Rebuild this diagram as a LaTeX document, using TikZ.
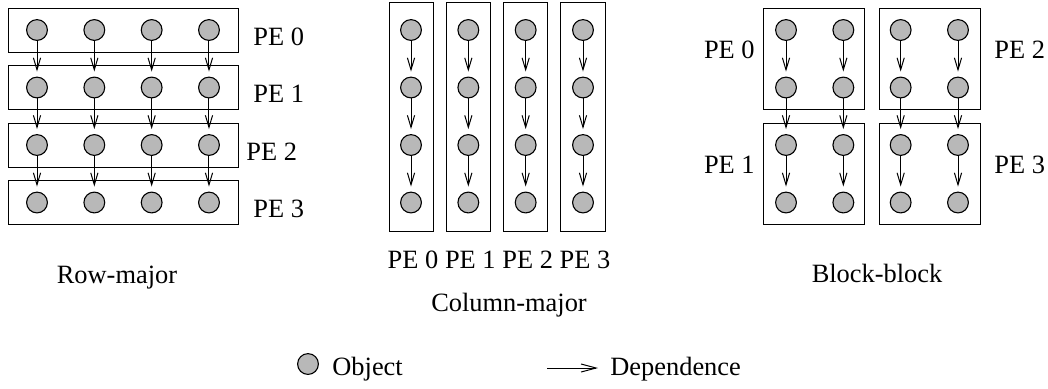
\documentclass[tikz,border=0pt]{standalone}
\usepackage{fontspec}
\setmainfont{Liberation Serif}
\usetikzlibrary{arrows.meta}
\definecolor{objgray}{gray}{0.72}
\tikzset{
  obj/.style={circle, draw, fill=objgray, line width=0.55pt, minimum size=10.4pt, inner sep=0pt},
  dep/.style={-{Straight Barb[length=6pt, width=3.6pt]}, line width=0.5pt, shorten >=2.5pt},
  pebox/.style={draw, line width=0.5pt},
  lbl/.style={inner sep=0pt, font=\fontsize{13.2}{15}\selectfont}
}

\begin{document}
\begin{tikzpicture}[x=0.5pt, y=-0.5pt]
  \useasboundingbox (0,0) rectangle (1048,388);

  % row-major: one row per PE
  \foreach \i in {0,...,3}{
    \draw[pebox] (8,{30+57.5*\i-22}) rectangle (238,{30+57.5*\i+22});
    \foreach \j in {0,...,3}
      \node[obj] (r\i\j) at ({37+57.33*\j},{30+57.5*\i}) {};
  }
  \foreach \i/\n in {0/1, 1/2, 2/3}
    \foreach \j in {0,...,3}
      \draw[dep] (r\i\j) -- (r\n\j);
  \foreach \i/\x in {0/253, 1/253, 2/246, 3/253}
    \node[lbl, anchor=base west] (rpe\i) at (\x,{45+57.5*\i}) {PE \i};
  \node[lbl, anchor=base] (rtitle) at (117,283) {Row-major};

  % column-major: one column per PE
  \foreach \j in {0,...,3}{
    \draw[pebox] ({411+57.33*\j-22},2) rectangle ({411+57.33*\j+22},231);
    \foreach \i in {0,...,3}
      \node[obj] (c\i\j) at ({411+57.33*\j},{30+57.5*\i}) {};
    \node[lbl, anchor=base] (cpe\j) at ({413+57.33*\j},268) {PE \j};
  }
  \foreach \i/\n in {0/1, 1/2, 2/3}
    \foreach \j in {0,...,3}
      \draw[dep] (c\i\j) -- (c\n\j);
  \node[lbl, anchor=base] (ctitle) at (509,311) {Column-major};

  % block-block: 2x2 blocks
  \foreach \bx/\by in {763/8, 879/8, 763/123, 879/123}
    \draw[pebox] (\bx,\by) rectangle ({\bx+101},{\by+101});
  \foreach \i in {0,...,3}
    \foreach \j in {0,...,3}
      \node[obj] (b\i\j) at ({786+57.33*\j},{30+57.5*\i}) {};
  \foreach \i/\n in {0/1, 1/2, 2/3}
    \foreach \j in {0,...,3}
      \draw[dep] (b\i\j) -- (b\n\j);
  \node[lbl, anchor=base east] (bpe0) at (755,58) {PE 0};
  \node[lbl, anchor=base east] (bpe1) at (755,173) {PE 1};
  \node[lbl, anchor=base west] (bpe2) at (994,58) {PE 2};
  \node[lbl, anchor=base west] (bpe3) at (994,173) {PE 3};
  \node[lbl, anchor=base] (btitle) at (877,282) {Block-block};

  % legend
  \node[obj] (legobj) at (308,364) {};
  \node[lbl, anchor=base west] (legobjtxt) at (332,375) {Object};
  \coordinate (depa) at (547,368);
  \coordinate (depb) at (598,368);
  \draw[dep, -{Straight Barb[length=7.5pt, width=4pt]}, shorten >=0pt] (depa) -- (depb);
  \node[lbl, anchor=base west] (legdeptxt) at (610,375) {Dependence};
\end{tikzpicture}
\end{document}
